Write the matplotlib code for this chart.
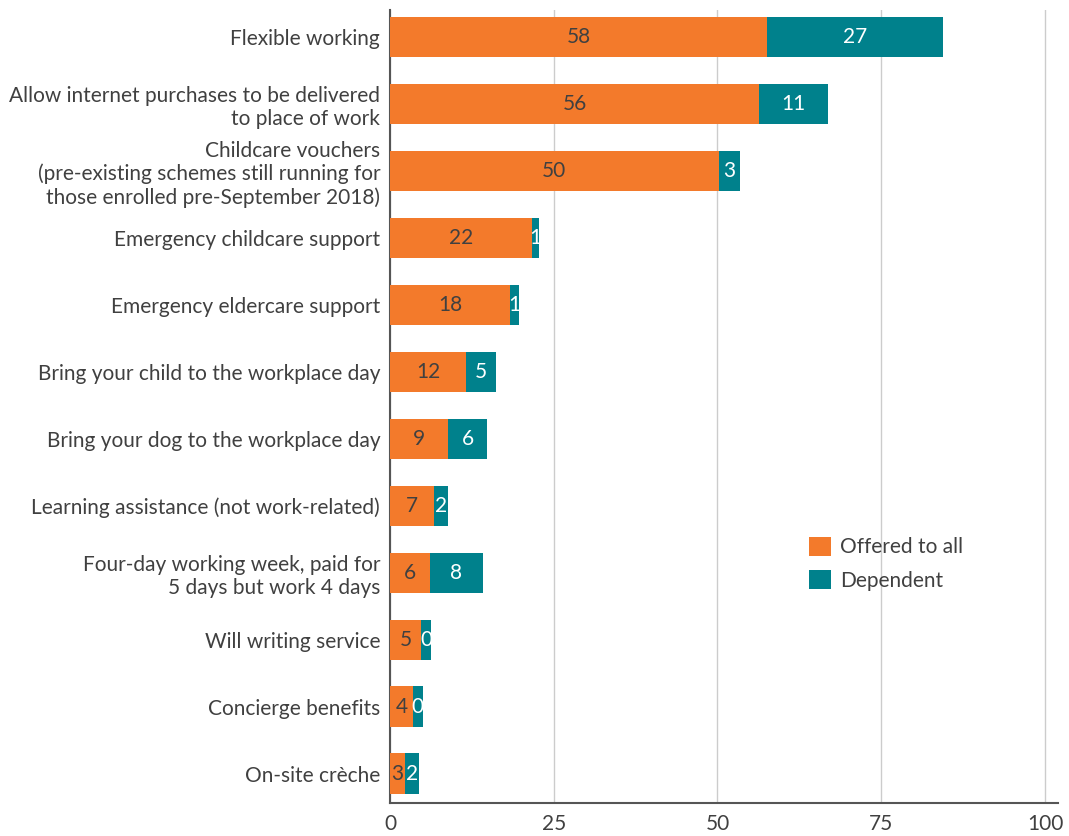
import matplotlib
matplotlib.use("Agg")
import matplotlib.pyplot as plt

plt.rcParams['font.family'] = ['Lato', 'DejaVu Sans']

categories = [
    "Flexible working",
    "Allow internet purchases to be delivered\nto place of work",
    "Childcare vouchers\n(pre-existing schemes still running for\nthose enrolled pre-September 2018)",
    "Emergency childcare support",
    "Emergency eldercare support",
    "Bring your child to the workplace day",
    "Bring your dog to the workplace day",
    "Learning assistance (not work-related)",
    "Four-day working week, paid for\n5 days but work 4 days",
    "Will writing service",
    "Concierge benefits",
    "On-site crèche",
]

# bar lengths
offered = [57.6, 56.4, 50.2, 21.7, 18.3, 11.6, 8.9, 6.7, 6.1, 4.7, 3.5, 2.3]
dependent = [26.8, 10.4, 3.3, 1.1, 1.4, 4.6, 5.9, 2.2, 8.1, 1.6, 1.5, 2.1]

# printed labels
offered_labels = [58, 56, 50, 22, 18, 12, 9, 7, 6, 5, 4, 3]
dependent_labels = [27, 11, 3, 1, 1, 5, 6, 2, 8, 0, 0, 2]

orange = "#F37A2B"
teal = "#00818C"
text_col = "#404040"

fig = plt.figure(figsize=(10.69, 8.36), dpi=100)
ax = fig.add_axes([0.3648, 0.0398, 0.625, 0.948])

y = range(len(categories))
h = 0.61
ax.barh(y, offered, height=h, color=orange, label="Offered to all", zorder=3)
ax.barh(y, dependent, left=offered, height=h, color=teal, label="Dependent", zorder=3)

for i in y:
    ax.text(offered[i] / 2, i, str(offered_labels[i]), ha='center', va='center',
            color=text_col, fontsize=15, zorder=4)
    ax.text(offered[i] + dependent[i] / 2, i, str(dependent_labels[i]), ha='center',
            va='center', color='white', fontsize=15, zorder=4)

ax.set_xlim(0, 102)
ax.set_ylim(11.43, -0.4)
ax.set_xticks([0, 25, 50, 75, 100])
ax.set_yticks(list(y))
ax.set_yticklabels(categories, linespacing=1.18)
ax.tick_params(axis='both', length=0, colors=text_col)
ax.tick_params(axis='y', labelsize=15, pad=7)
ax.tick_params(axis='x', labelsize=15, pad=8)

ax.grid(axis='x', color='#cccccc', linewidth=1, zorder=0)
for s in ['top', 'right']:
    ax.spines[s].set_visible(False)
for s in ['left', 'bottom']:
    ax.spines[s].set_color('#555555')
    ax.spines[s].set_linewidth(1.5)

ax.legend(loc='upper left', bbox_to_anchor=(0.757, 0.358), bbox_transform=fig.transFigure,
          frameon=False, fontsize=15, handlelength=1.05, handleheight=1.05,
          handletextpad=0.45, labelspacing=0.6, borderaxespad=0, borderpad=0,
          labelcolor=text_col)

fig.savefig("out.png", dpi=100)
